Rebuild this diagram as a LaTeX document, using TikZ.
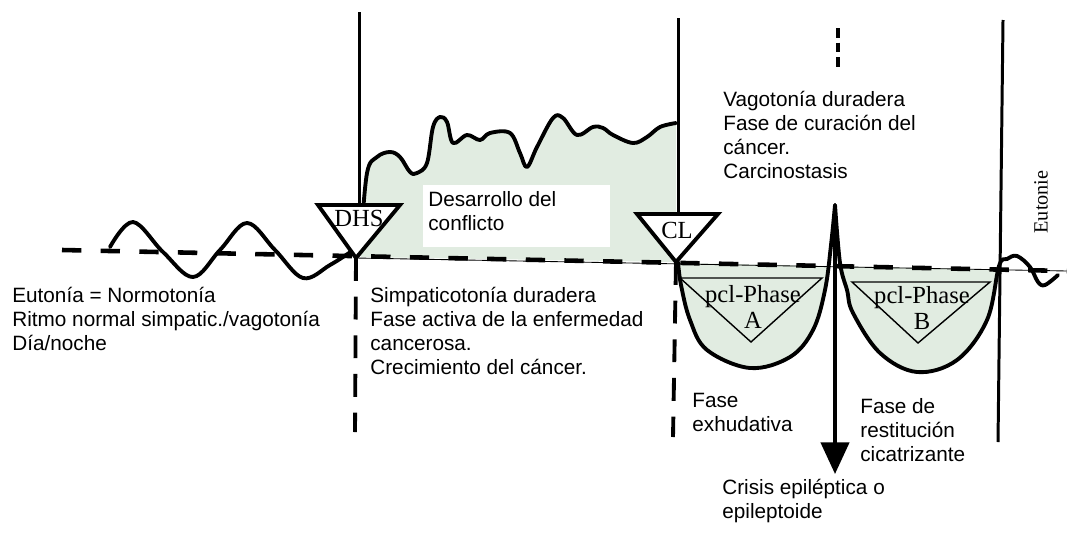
\documentclass[tikz,border=0pt]{standalone}
\usepackage{fontspec}
\setmainfont{Liberation Sans}
\newfontfamily\timesfont{Liberation Serif}
\usetikzlibrary{arrows.meta}
\definecolor{phasegreen}{RGB}{225,236,225}
\begin{document}
\begin{tikzpicture}[x=0.02cm,y=-0.02cm,
  axis/.style={line width=1.7pt},
  wave/.style={line width=2.2pt,line join=round,line cap=round},
  basedash/.style={line width=2.6pt,dash pattern=on 11pt off 11pt},
  dropdash/.style={line width=2.2pt,dash pattern=on 13pt off 9pt},
  trig/.style={line width=2.2pt,fill=white,line join=miter},
  pcl/.style={line width=0.8pt},
  txt/.style={anchor=base west,align=left,inner sep=0pt,font=\fontsize{11.8}{13.6}\selectfont},
  serif/.style={inner sep=0pt,font=\timesfont\fontsize{14}{15}\selectfont}]
  \useasboundingbox (0,0) rectangle (1067,534);
  % key points
  \coordinate (left) at (62,250);
  \coordinate (right) at (1067,271);
  \coordinate (dhs) at (356,258);
  \coordinate (cl) at (676,262);
  \coordinate (cusp) at (835,205);
  % green areas
  \fill[phasegreen] plot[smooth,tension=0.6] coordinates {(361,240)(367,173)(377,157)(390,152)(400,157)(410,172)(417,173)(427,163)(433,127)(440,117)(447,122)(453,143)(467,135)(480,140)(490,133)(510,133)(520,153)(527,167)(537,147)(553,118)(563,118)(577,135)(593,127)(603,128)(613,135)(633,143)(647,137)(660,127)(676,123)} -- (676,262) -- (361,257) -- cycle;
  \begin{scope}
    \clip (600,261.2) -- (1067,271) -- (1067,534) -- (600,534) -- cycle;
    \fill[phasegreen] plot[smooth,tension=0.6] coordinates {(678,262)(681,285)(690,320)(707,350)(750,368)(790,357)(813,330)(825,290)(831,245)(835,205)} -- cycle;
    \fill[phasegreen] plot[smooth,tension=0.6] coordinates {(835,205)(840,263)(847,290)(853,313)(880,353)(917,372)(957,360)(987,320)(999,266)} -- cycle;
  \end{scope}
  % baseline
  \draw[line width=0.5pt] (dhs) -- (right);
  \draw[basedash] (left) -- (right);
  \fill[white] (423,185) rectangle (610,247);
  % curves
  \draw[wave] plot[smooth,tension=0.6] coordinates {(110,247)(133,222)(163,252)(193,277)(220,250)(247,223)(275,250)(303,278)(330,265)(352,251)};
  \draw[wave] plot[smooth,tension=0.6] coordinates {(361,240)(367,173)(377,157)(390,152)(400,157)(410,172)(417,173)(427,163)(433,127)(440,117)(447,122)(453,143)(467,135)(480,140)(490,133)(510,133)(520,153)(527,167)(537,147)(553,118)(563,118)(577,135)(593,127)(603,128)(613,135)(633,143)(647,137)(660,127)(676,123)};
  \draw[wave] plot[smooth,tension=0.6] coordinates {(678,262)(681,285)(690,320)(707,350)(750,368)(790,357)(813,330)(825,290)(831,245)(835,205)};
  \draw[wave] plot[smooth,tension=0.6] coordinates {(835,205)(840,263)(847,290)(853,313)(880,353)(917,372)(957,360)(987,320)(999,266)(1007,259)(1017,256)(1030,267)(1038,282)(1045,285)(1058,275)};
  % phase lines
  \coordinate (dhstop) at (359,12);
  \coordinate (dhsbot) at (355,432);
  \coordinate (cltop) at (678,18);
  \coordinate (clbot) at (673,437);
  \coordinate (eutop) at (1003,20);
  \coordinate (eubot) at (998,442);
  \draw[axis] (dhstop) -- (359,205);
  \draw[dropdash] (dhs) -- (dhsbot);
  \draw[axis] (cltop) -- (678,214);
  \draw[dropdash] (cl) -- (clbot);
  \draw[axis] (eutop) -- (eubot);
  \coordinate (dottop) at (838,28);
  \coordinate (dotbot) at (838,67);
  \draw[line width=2.2pt,dash pattern=on 5.5pt off 2.8pt] (dottop) -- (dotbot);
  % triangles
  \draw[trig] (318,205) -- (400,205) -- (dhs) -- cycle;
  \node[serif] (dhslabel) at (359,218) {DHS};
  \draw[trig] (637,214) -- (718,214) -- (cl) -- cycle;
  \node[serif] (cllabel) at (677,230) {CL};
  \draw[pcl] (680,278) -- (822,278) -- (751,342) -- cycle;
  \node[serif,align=center] (phasea) at (753,307) {pcl-Phase\\A};
  \draw[pcl] (852,282) -- (990,282) -- (918,343) -- cycle;
  \node[serif,align=center] (phaseb) at (922,308) {pcl-Phase\\B};
  \node[rotate=90,inner sep=0pt,font=\timesfont\fontsize{11.5}{12}\selectfont] (eutonie) at (1041,202) {Eutonie};
  % crisis
  \coordinate (crisis) at (835,474);
  \draw[line width=2.2pt,-{Triangle[width=16pt,length=18pt]}] (cusp) -- (crisis);
  % texts (anchored at the last line)
  \node[txt] (eutonia) at (12,350) {Eutonía = Normotonía\\Ritmo normal simpatic./vagotonía\\Día/noche};
  \node[txt] (simpatico) at (370,374) {Simpaticotonía duradera\\Fase activa de la enfermedad\\cancerosa.\\Crecimiento del cáncer.};
  \node[txt] (conflicto) at (428,230) {Desarrollo del\\conflicto};
  \node[txt] (vagotonia) at (723,178) {Vagotonía duradera\\Fase de curación del\\cáncer.\\Carcinostasis};
  \node[txt] (exhudativa) at (692,431) {Fase\\exhudativa};
  \node[txt] (restitucion) at (860,461) {Fase de\\restitución\\cicatrizante};
  \node[txt] (crisistxt) at (722,518) {Crisis epiléptica o\\epileptoide};
\end{tikzpicture}
\end{document}
